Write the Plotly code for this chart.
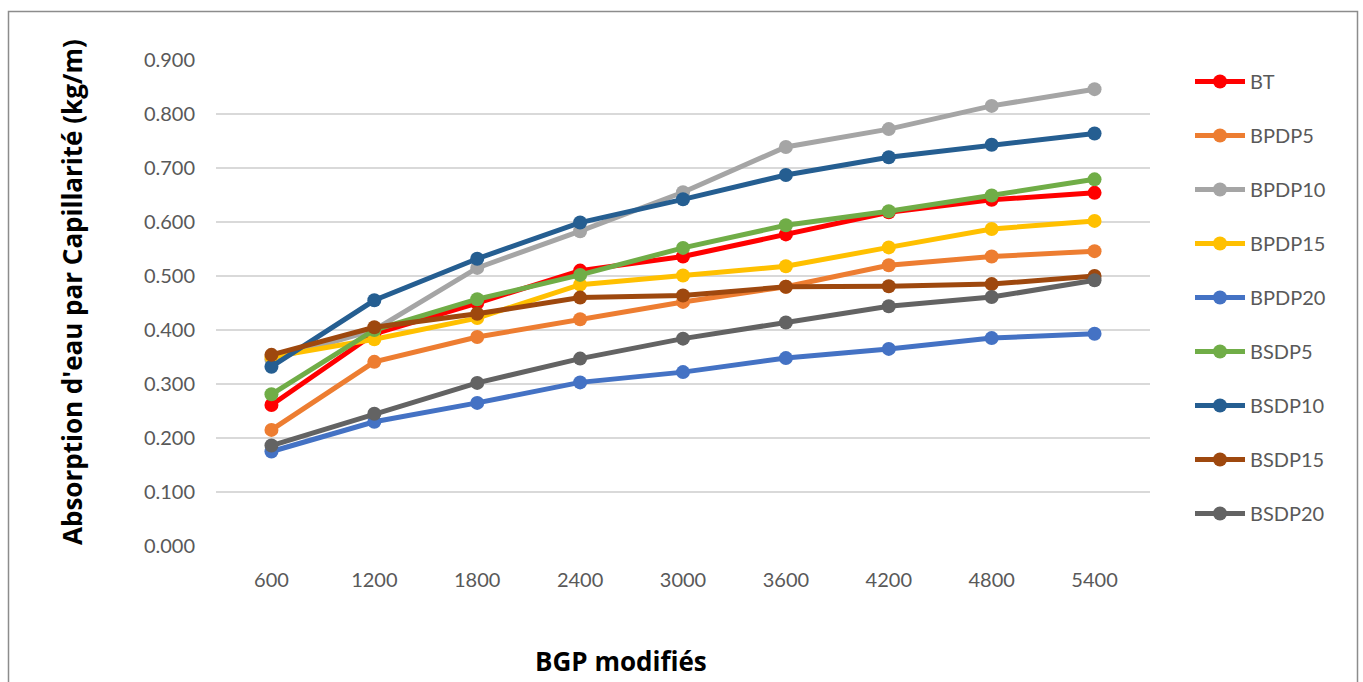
import plotly.graph_objects as go

# Durations / categories on the horizontal axis
categories = ["600", "1200", "1800", "2400", "3000", "3600", "4200", "4800", "5400"]

# Capillary water absorption (kg/m) per mix
bt      = [0.261, 0.393, 0.450, 0.510, 0.536, 0.577, 0.618, 0.641, 0.654]
bpdp5   = [0.215, 0.341, 0.387, 0.420, 0.452, 0.480, 0.520, 0.536, 0.546]
bpdp10  = [0.345, 0.400, 0.515, 0.583, 0.655, 0.739, 0.772, 0.815, 0.846]
bpdp15  = [0.350, 0.383, 0.422, 0.484, 0.501, 0.518, 0.553, 0.587, 0.602]
bpdp20  = [0.175, 0.230, 0.265, 0.303, 0.322, 0.348, 0.365, 0.385, 0.393]
bsdp5   = [0.281, 0.400, 0.457, 0.502, 0.552, 0.594, 0.620, 0.649, 0.679]
bsdp10  = [0.332, 0.455, 0.532, 0.599, 0.642, 0.687, 0.720, 0.743, 0.764]
bsdp15  = [0.354, 0.405, 0.430, 0.460, 0.464, 0.480, 0.481, 0.485, 0.500]
bsdp20  = [0.186, 0.245, 0.302, 0.347, 0.384, 0.414, 0.444, 0.461, 0.492]

series_names = ["BT", "BPDP5", "BPDP10", "BPDP15", "BPDP20", "BSDP5", "BSDP10", "BSDP15", "BSDP20"]
series_values = [bt, bpdp5, bpdp10, bpdp15, bpdp20, bsdp5, bsdp10, bsdp15, bsdp20]
series_colors = ["#FF0000", "#ED7D31", "#A5A5A5", "#FFC000", "#4472C4",
                 "#70AD47", "#255E91", "#9E480E", "#636363"]

y_ticks = [0.0, 0.1, 0.2, 0.3, 0.4, 0.5, 0.6, 0.7, 0.8, 0.9]

FONT = "Lato"
TITLE_FONT = "Open Sans"
W, H = 1363, 682
L, R, T, B = 216, 213, 60, 136

fig = go.Figure()
for name, vals, col in zip(series_names, series_values, series_colors):
    fig.add_trace(go.Scatter(
        x=categories, y=vals, name=name, mode="lines+markers",
        line=dict(color=col, width=5),
        marker=dict(color=col, size=14),
        legendgroup=name,
    ))

pw = W - L - R
ph = H - T - B

def px_x(x):
    return (x - L) / pw

def px_y(y):
    return (H - B - y) / ph

fig.update_layout(
    width=W, height=H,
    margin=dict(l=L, r=R, t=T, b=B),
    paper_bgcolor="white", plot_bgcolor="white",
    font=dict(family=FONT, color="#595959", size=20),
    showlegend=True,
    legend=dict(
        x=px_x(1190), y=px_y(62), xanchor="left", yanchor="top",
        font=dict(size=20, color="#595959", family=FONT),
        tracegroupgap=25, itemwidth=50,
        bgcolor="rgba(0,0,0,0)",
    ),
    xaxis=dict(
        type="category", showgrid=False, zeroline=False, showline=False,
        ticks="", tickfont=dict(size=20, color="#595959"),
        ticklabelstandoff=20,
    ),
    yaxis=dict(
        range=[0, 0.9], tickvals=y_ticks, tickformat=".3f",
        showgrid=True, gridcolor="#D9D9D9", gridwidth=1.5,
        zeroline=False, showline=False, ticks="",
        tickfont=dict(size=20, color="#595959"),
        ticklabelstandoff=20,
    ),
    shapes=[dict(
        type="rect", xref="paper", yref="paper",
        x0=px_x(8.5), x1=px_x(1357.5), y0=px_y(700), y1=px_y(11.5),
        line=dict(color="#8C8C8C", width=1.5), fillcolor="rgba(0,0,0,0)",
        layer="below",
    )],
    annotations=[
        dict(text="<b>Absorption d'eau par Capillarité (kg/m)</b>",
             xref="paper", yref="paper", x=px_x(72), y=px_y(292),
             xanchor="center", yanchor="middle", textangle=-90, showarrow=False,
             font=dict(size=26, color="black", family=TITLE_FONT)),
        dict(text="<b>BGP modifiés</b>",
             xref="paper", yref="paper", x=px_x(621), y=px_y(661),
             xanchor="center", yanchor="middle", showarrow=False,
             font=dict(size=26, color="black", family=TITLE_FONT)),
    ],
)

fig.write_html("out.html")
